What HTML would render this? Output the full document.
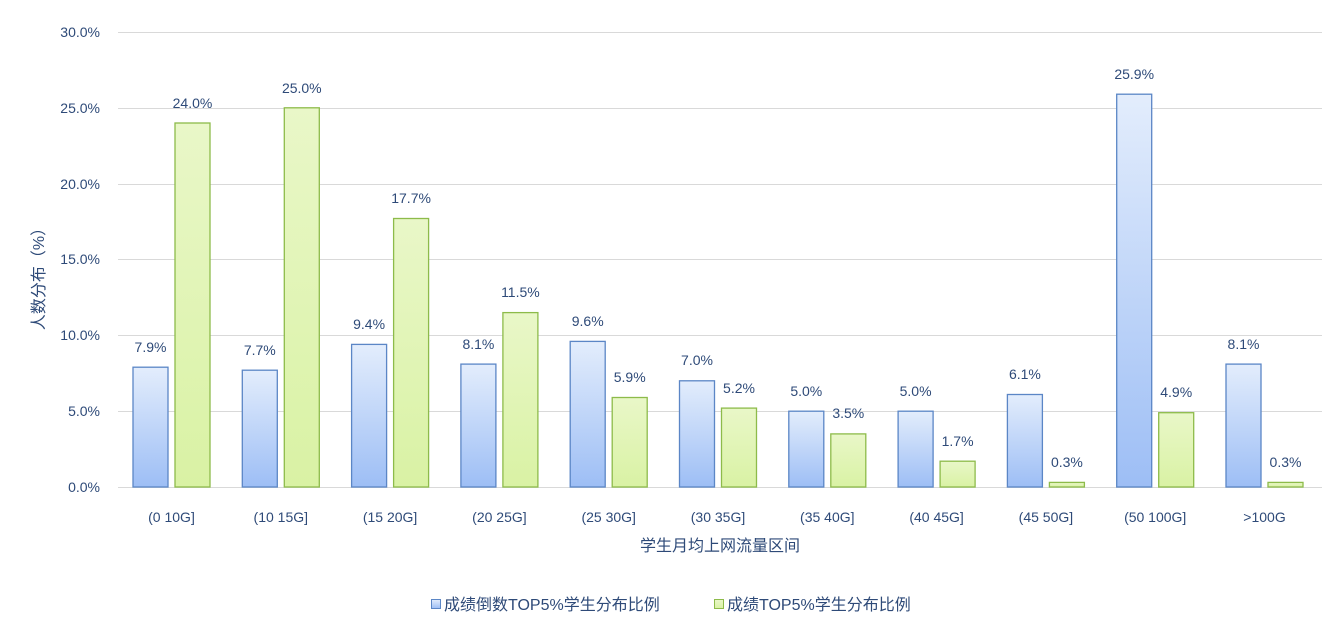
<!DOCTYPE html><html><head><meta charset="utf-8"><style>body{margin:0;background:#fff}</style></head><body>
<svg width="1337" height="632" xmlns="http://www.w3.org/2000/svg" font-family="Liberation Sans, Noto Sans CJK SC, sans-serif" fill="#2e4a78">
<defs>
<linearGradient id="b" x1="0" y1="0" x2="0" y2="1"><stop offset="0" stop-color="#e3edfc"/><stop offset="1" stop-color="#9dbef5"/></linearGradient>
<linearGradient id="g" x1="0" y1="0" x2="0" y2="1"><stop offset="0" stop-color="#e9f7c8"/><stop offset="1" stop-color="#d9f2a4"/></linearGradient>
</defs>
<g stroke="#d9d9d9" stroke-width="1">
<line x1="118" x2="1322" y1="32.5" y2="32.5"/><line x1="118" x2="1322" y1="108.5" y2="108.5"/><line x1="118" x2="1322" y1="184.5" y2="184.5"/><line x1="118" x2="1322" y1="259.5" y2="259.5"/><line x1="118" x2="1322" y1="335.5" y2="335.5"/><line x1="118" x2="1322" y1="411.5" y2="411.5"/><line x1="118" x2="1322" y1="487.5" y2="487.5"/>
</g>
<g font-size="14" text-anchor="end">
<text x="100" y="37">30.0%</text><text x="100" y="113">25.0%</text><text x="100" y="189">20.0%</text><text x="100" y="264">15.0%</text><text x="100" y="340">10.0%</text><text x="100" y="416">5.0%</text><text x="100" y="492">0.0%</text>
</g>
<text transform="translate(44,275) rotate(-90)" font-size="16" text-anchor="middle">人数分布（%）</text>
<g fill="url(#b)" stroke="#5b86c6" stroke-width="1.3">
<rect x="133" y="367.2" width="35" height="119.8"/><rect x="242.3" y="370.2" width="35" height="116.8"/><rect x="351.6" y="344.4" width="35" height="142.6"/><rect x="460.9" y="364.1" width="35" height="122.9"/><rect x="570.2" y="341.4" width="35" height="145.6"/><rect x="679.5" y="380.8" width="35" height="106.2"/><rect x="788.8" y="411.2" width="35" height="75.8"/><rect x="898.1" y="411.2" width="35" height="75.8"/><rect x="1007.4" y="394.5" width="35" height="92.5"/><rect x="1116.7" y="94.2" width="35" height="392.8"/><rect x="1226" y="364.1" width="35" height="122.9"/>
</g>
<g fill="url(#g)" stroke="#8dbb4a" stroke-width="1.3">
<rect x="175" y="123" width="35" height="364"/><rect x="284.3" y="107.8" width="35" height="379.2"/><rect x="393.6" y="218.5" width="35" height="268.5"/><rect x="502.9" y="312.6" width="35" height="174.4"/><rect x="612.2" y="397.5" width="35" height="89.5"/><rect x="721.5" y="408.1" width="35" height="78.9"/><rect x="830.8" y="433.9" width="35" height="53.1"/><rect x="940.1" y="461.2" width="35" height="25.8"/><rect x="1049.4" y="482.4" width="35" height="4.6"/><rect x="1158.7" y="412.7" width="35" height="74.3"/><rect x="1268" y="482.4" width="35" height="4.6"/>
</g>
<g font-size="14" text-anchor="middle">
<text x="150.5" y="352">7.9%</text><text x="259.8" y="355">7.7%</text><text x="369.1" y="329">9.4%</text><text x="478.4" y="349">8.1%</text><text x="587.7" y="326">9.6%</text><text x="697" y="365">7.0%</text><text x="806.3" y="396">5.0%</text><text x="915.6" y="396">5.0%</text><text x="1024.9" y="379">6.1%</text><text x="1134.2" y="79">25.9%</text><text x="1243.5" y="349">8.1%</text>
<text x="192.5" y="108">24.0%</text><text x="301.8" y="93">25.0%</text><text x="411.1" y="203">17.7%</text><text x="520.4" y="297">11.5%</text><text x="629.7" y="382">5.9%</text><text x="739" y="393">5.2%</text><text x="848.3" y="418">3.5%</text><text x="957.6" y="446">1.7%</text><text x="1066.9" y="467">0.3%</text><text x="1176.2" y="397">4.9%</text><text x="1285.5" y="467">0.3%</text>
</g>
<g font-size="14" text-anchor="middle">
<text x="171.5" y="522">(0 10G]</text><text x="280.8" y="522">(10 15G]</text><text x="390.1" y="522">(15 20G]</text><text x="499.4" y="522">(20 25G]</text><text x="608.7" y="522">(25 30G]</text><text x="718" y="522">(30 35G]</text><text x="827.3" y="522">(35 40G]</text><text x="936.6" y="522">(40 45G]</text><text x="1045.9" y="522">(45 50G]</text><text x="1155.2" y="522">(50 100G]</text><text x="1264.5" y="522">&gt;100G</text>
</g>
<text x="720" y="551" font-size="16" text-anchor="middle">学生月均上网流量区间</text>
<rect x="431.5" y="599.5" width="9" height="9" fill="url(#b)" stroke="#5b86c6"/>
<text x="444" y="610" font-size="16">成绩倒数TOP5%学生分布比例</text>
<rect x="714.5" y="599.5" width="9" height="9" fill="url(#g)" stroke="#8dbb4a"/>
<text x="727" y="610" font-size="16">成绩TOP5%学生分布比例</text>
</svg>
</body></html>
